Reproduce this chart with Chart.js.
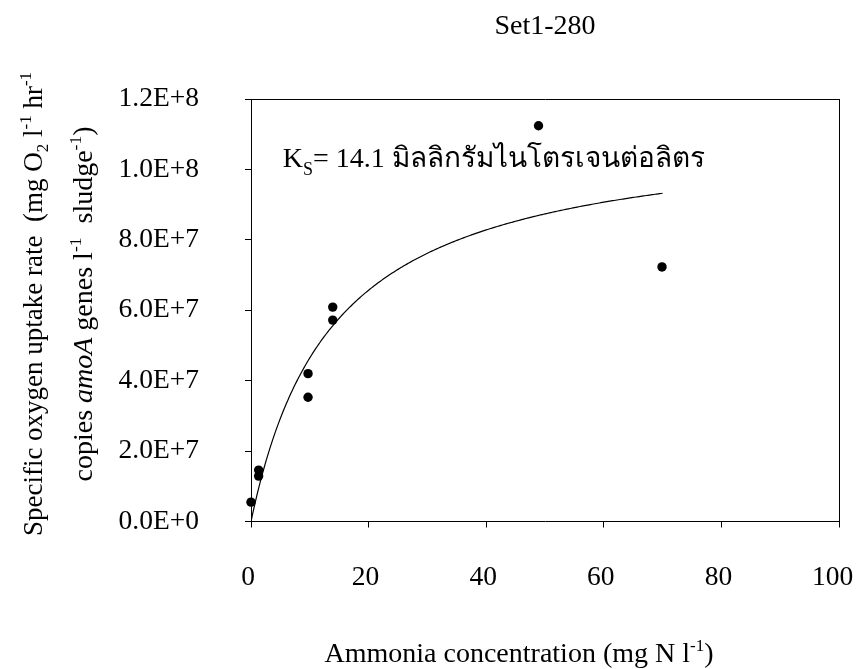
<!DOCTYPE html>
<html>
<head>
<meta charset="utf-8">
<script src="https://cdn.jsdelivr.net/npm/chart.js@4"></script>
<style>
  html, body { margin: 0; padding: 0; background: #ffffff; }
  #wrap { width: 857px; height: 669px; }
</style>
</head>
<body>
<div id="wrap"><canvas id="c" width="857" height="669"></canvas></div>
<script>
// Measured specific oxygen uptake rates vs. ammonia concentration
const ammoniaConc = [0, 1.3, 1.3, 9.7, 9.7, 13.9, 13.9, 48.9, 69.9];
const sOUR = [5.5e6, 1.46e7, 1.29e7, 4.2e7, 3.53e7, 6.09e7, 5.72e7, 1.124e8, 7.23e7];

// Monod fit parameters
const KS = 14.1;          // mg N/l, half-saturation constant
const VMAX = 1.12e8;      // maximum specific rate
const FIT_RANGE = [0, 70];

// Axis ticks
const xTicks = [0, 20, 40, 60, 80, 100];
const yTicks = [0, 2e7, 4e7, 6e7, 8e7, 1e8, 1.2e8];

const chartTitle = 'Set1-280';
const ksLabelMain = '= ' + KS.toFixed(1) + ' มิลลิกรัมไนโตรเจนต่อลิตร';

const FONT = "'Liberation Serif', 'Times New Roman', serif";

// Fitted curve sampled along the concentration range
const fitCurve = [];
for (let s = FIT_RANGE[0]; s <= FIT_RANGE[1] + 1e-9; s += 0.25) {
  fitCurve.push({ x: s, y: VMAX * s / (KS + s) });
}

const points = ammoniaConc.map((x, i) => ({ x, y: sOUR[i] }));

// Draw a run of text pieces (with sub/superscripts) centred on the origin
function drawRich(ctx, parts, align) {
  let total = 0;
  const widths = parts.map(p => {
    ctx.font = (p.italic ? 'italic ' : '') + p.size + 'px ' + FONT;
    const w = ctx.measureText(p.t).width;
    total += w;
    return w;
  });
  let x = align === 'left' ? 0 : -total / 2;
  parts.forEach((p, i) => {
    ctx.font = (p.italic ? 'italic ' : '') + p.size + 'px ' + FONT;
    ctx.fillText(p.t, x, p.dy || 0);
    x += widths[i];
  });
}

const textPlugin = {
  id: 'richLabels',
  afterDraw(chart) {
    const ctx = chart.ctx;
    const xs = chart.scales.x, ys = chart.scales.y;
    ctx.save();
    ctx.fillStyle = '#000';
    ctx.textBaseline = 'alphabetic';
    ctx.textAlign = 'left';

    // x-axis title
    ctx.save();
    ctx.translate(519, 662);
    drawRich(ctx, [
      { t: 'Ammonia concentration (mg N l', size: 28 },
      { t: '-1', size: 17, dy: -11 },
      { t: ')', size: 28 }
    ]);
    ctx.restore();

    // y-axis title, line 1
    ctx.save();
    ctx.translate(42, 304);
    ctx.rotate(-Math.PI / 2);
    drawRich(ctx, [
      { t: 'Specific oxygen uptake rate  (mg O', size: 27 },
      { t: '2', size: 17, dy: 6 },
      { t: ' l', size: 27 },
      { t: '-1', size: 17, dy: -11 },
      { t: ' hr', size: 27 },
      { t: '-1', size: 17, dy: -11 }
    ]);
    ctx.restore();

    // y-axis title, line 2
    ctx.save();
    ctx.translate(92, 304);
    ctx.rotate(-Math.PI / 2);
    drawRich(ctx, [
      { t: 'copies ', size: 28 },
      { t: 'amoA', size: 28, italic: true },
      { t: ' genes l', size: 28 },
      { t: '-1', size: 17.5, dy: -11 },
      { t: '  sludge', size: 28 },
      { t: '-1', size: 17.5, dy: -11 },
      { t: ')', size: 28 }
    ]);
    ctx.restore();

    // half-saturation constant annotation
    ctx.save();
    ctx.translate(xs.getPixelForValue(5.4), ys.getPixelForValue(1.0075e8));
    drawRich(ctx, [
      { t: 'K', size: 28 },
      { t: 'S', size: 18, dy: 8 },
      { t: ksLabelMain, size: 28 }
    ], 'left');
    ctx.restore();

    ctx.restore();
  }
};

const noPad = s => { s.paddingLeft = 0; s.paddingRight = 0; s.paddingTop = 0; s.paddingBottom = 0; };

new Chart(document.getElementById('c'), {
  type: 'scatter',
  data: {
    datasets: [
      {
        label: 'Measured',
        data: points,
        showLine: false,
        clip: false,
        pointRadius: 4.7,
        pointHoverRadius: 4.7,
        pointBackgroundColor: '#000',
        pointBorderColor: '#000',
        pointBorderWidth: 0,
        order: 1
      },
      {
        label: 'Monod fit',
        data: fitCurve,
        showLine: true,
        pointRadius: 0,
        borderColor: '#000',
        borderWidth: 1.2,
        tension: 0,
        fill: false,
        order: 2
      }
    ]
  },
  options: {
    responsive: false,
    animation: false,
    devicePixelRatio: 1,
    layout: { padding: { left: 0, right: 18, top: 0, bottom: 0 } },
    plugins: {
      legend: { display: false },
      tooltip: { enabled: false },
      title: {
        display: true,
        text: chartTitle,
        fullSize: false,
        color: '#000',
        font: { family: FONT, size: 28, weight: 'normal' },
        padding: { top: 10, bottom: 55.4 }
      }
    },
    scales: {
      x: {
        type: 'linear',
        position: 'bottom',
        min: xTicks[0],
        max: xTicks[xTicks.length - 1],
        afterBuildTicks: s => { s.ticks = xTicks.map(v => ({ value: v })); },
        ticks: {
          color: '#000',
          font: { family: FONT, size: 27.5 },
          padding: 34,
          labelOffset: -3,
          maxRotation: 0,
          autoSkip: false,
          // the last label is nudged inward so it stays on the canvas
          callback: v => (v === xTicks[xTicks.length - 1] ? String(v) + ' ' : String(v))
        },
        grid: { drawOnChartArea: false, drawTicks: true, tickLength: 6, color: '#000', tickColor: '#000' },
        border: { display: true, color: '#000', width: 1 },
        afterFit: s => { s.height = 147.5; noPad(s); }
      },
      y: {
        type: 'linear',
        position: 'left',
        min: yTicks[0],
        max: yTicks[yTicks.length - 1],
        afterBuildTicks: s => { s.ticks = yTicks.map(v => ({ value: v })); },
        ticks: {
          color: '#000',
          font: { family: FONT, size: 27.5 },
          padding: 46,
          autoSkip: false,
          callback: v => v.toExponential(1).toUpperCase()
        },
        grid: { drawOnChartArea: false, drawTicks: true, tickLength: 6, color: '#000', tickColor: '#000' },
        border: { display: true, color: '#000', width: 1 },
        afterFit: s => { s.width = 251; noPad(s); }
      },
      x2: {
        type: 'linear',
        position: 'top',
        min: 0, max: 100,
        ticks: { display: false },
        grid: { display: false, drawTicks: false },
        border: { display: true, color: '#000', width: 1 },
        afterFit: s => { s.height = 0; noPad(s); }
      },
      y2: {
        type: 'linear',
        position: 'right',
        min: 0, max: 1.2e8,
        ticks: { display: false },
        grid: { display: false, drawTicks: false },
        border: { display: true, color: '#000', width: 1 },
        afterFit: s => { s.width = 0; noPad(s); }
      }
    }
  },
  plugins: [textPlugin]
});
</script>
</body>
</html>
